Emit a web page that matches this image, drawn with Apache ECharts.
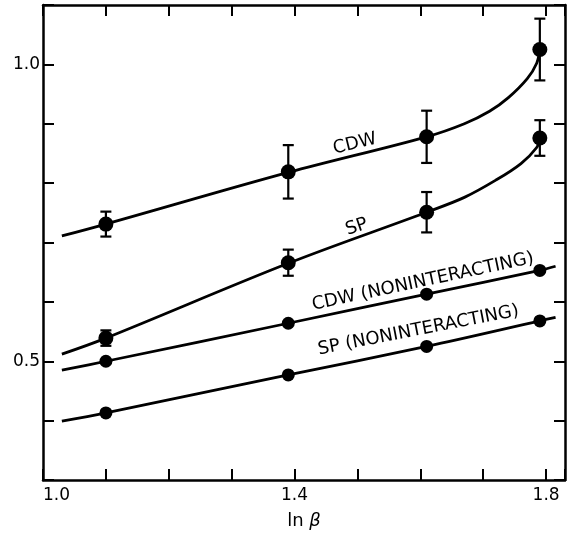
<!DOCTYPE html>
<html>
<head>
<meta charset="utf-8">
<script src="https://cdn.jsdelivr.net/npm/echarts@6/dist/echarts.min.js"></script>
<style>
  html, body { margin: 0; padding: 0; background: #fff; }
  #chart { width: 570px; height: 536px; }
</style>
</head>
<body>
<div id="chart"></div>
<script>
// ln(beta) values of the four measured lattices
const lnBeta = [1.10, 1.39, 1.61, 1.79];

// measured points with their error half-widths
const cdwValues = [0.731, 0.819, 0.878, 1.025];
const cdwErrors = [0.021, 0.045, 0.044, 0.052];
const spValues = [0.539, 0.666, 0.751, 0.876];
const spErrors = [0.013, 0.022, 0.034, 0.030];
const cdwNonValues = [0.500, 0.564, 0.613, 0.653];
const spNonValues = [0.413, 0.477, 0.525, 0.568];

// fitted guide curves, [ln beta, value]
const cdwCurve = [[1.03, 0.711], [1.10, 0.731], [1.39, 0.818], [1.61, 0.878], [1.67, 0.900],
  [1.71, 0.921], [1.74, 0.944], [1.77, 0.976], [1.785, 1.002], [1.79, 1.025]];
const spCurve = [[1.03, 0.512], [1.10, 0.539], [1.39, 0.665], [1.61, 0.751], [1.67, 0.776],
  [1.72, 0.805], [1.76, 0.833], [1.785, 0.860], [1.79, 0.876]];
const cdwNonCurve = [[1.03, 0.485], [1.10, 0.500], [1.39, 0.564], [1.61, 0.613], [1.79, 0.653], [1.815, 0.660]];
const spNonCurve = [[1.03, 0.399], [1.10, 0.413], [1.39, 0.477], [1.61, 0.525], [1.79, 0.568], [1.815, 0.574]];

// curve captions: text, [ln beta, value], rotation in degrees
const captions = [
  ['CDW', [1.496, 0.866], 14],
  ['SP', [1.499, 0.726], 19],
  ['CDW (NONINTERACTING)', [1.604, 0.634], 12],
  ['SP (NONINTERACTING)', [1.597, 0.552], 11]
];

// tick labels that are printed
const xTickLabels = ['1.0', '1.4', '1.8'];
const yTickLabels = ['0.5', '1.0'];

const chart = echarts.init(document.getElementById('chart'), null, { renderer: 'canvas' });
const INK = '#000';
const FONT = 'DejaVu Sans';

function pick(labels) {
  return function (v) {
    const s = v.toFixed(1);
    return labels.indexOf(s) >= 0 && Math.abs(v - parseFloat(s)) < 1e-6 ? s : '';
  };
}

const axisCommon = {
  type: 'value',
  axisLine: { show: true, onZero: false, lineStyle: { color: INK, width: 2.5 } },
  axisTick: { show: true, inside: true, length: 11, lineStyle: { color: INK, width: 2 } },
  splitLine: { show: false }
};

function pairs(xs, ys) { return xs.map((x, i) => [x, ys[i]]); }
function bars(xs, ys, es) { return xs.map((x, i) => [x, ys[i], ys[i] - es[i], ys[i] + es[i]]); }

function curve(data) {
  return {
    type: 'line', data: data, smooth: 0.35, showSymbol: false, silent: true,
    lineStyle: { color: INK, width: 2.8, opacity: 1 }, z: 2
  };
}
function dots(data, size) {
  return { type: 'scatter', data: data, symbolSize: size, itemStyle: { color: INK, opacity: 1 }, z: 4 };
}
function errorBars(data) {
  return {
    type: 'custom', data: data, z: 3,
    renderItem: function (params, api) {
      const x = api.value(0);
      const top = api.coord([x, api.value(3)]);
      const bot = api.coord([x, api.value(2)]);
      const w = 5.5;
      const st = { stroke: INK, lineWidth: 2.2 };
      return {
        type: 'group',
        children: [
          { type: 'line', shape: { x1: top[0], y1: top[1], x2: bot[0], y2: bot[1] }, style: st },
          { type: 'line', shape: { x1: top[0] - w, y1: top[1], x2: top[0] + w, y2: top[1] }, style: st },
          { type: 'line', shape: { x1: bot[0] - w, y1: bot[1], x2: bot[0] + w, y2: bot[1] }, style: st }
        ]
      };
    }
  };
}

const captionSeries = captions.map(c => ({
  type: 'scatter', symbolSize: 0, silent: true, z: 5,
  itemStyle: { opacity: 1 },
  data: [{ value: c[1] }],
  label: {
    show: true, position: 'inside', formatter: c[0], rotate: c[2], opacity: 1,
    color: INK, fontFamily: FONT, fontSize: 18
  }
}));

chart.setOption({
  animation: false,
  backgroundColor: '#fff',
  grid: { left: 43, right: 5, top: 5, bottom: 56, containLabel: false },
  xAxis: [
    Object.assign({}, axisCommon, {
      min: 1.0, max: 1.83, interval: 0.1, position: 'bottom',
      axisLabel: {
        formatter: pick(xTickLabels), color: INK, fontFamily: FONT, fontSize: 17, margin: 7,
        alignMinLabel: 'left'
      },
      name: '{a|ln }{b|β}', nameLocation: 'middle', nameGap: 32,
      nameTextStyle: {
        rich: {
          a: { color: INK, fontFamily: FONT, fontSize: 18 },
          b: { color: INK, fontFamily: FONT, fontSize: 18, fontStyle: 'italic' }
        }
      }
    }),
    Object.assign({}, axisCommon, {
      min: 1.0, max: 1.83, interval: 0.1, position: 'top', axisLabel: { show: false }
    })
  ],
  yAxis: [
    Object.assign({}, axisCommon, {
      min: 0.3, max: 1.1, interval: 0.1, position: 'left',
      axisLabel: { formatter: pick(yTickLabels), color: INK, fontFamily: FONT, fontSize: 17, margin: 3 }
    }),
    Object.assign({}, axisCommon, {
      min: 0.3, max: 1.1, interval: 0.1, position: 'right', axisLabel: { show: false }
    })
  ],
  series: [
    curve(cdwCurve),
    curve(spCurve),
    curve(cdwNonCurve),
    curve(spNonCurve),
    errorBars(bars(lnBeta, cdwValues, cdwErrors)),
    errorBars(bars(lnBeta, spValues, spErrors)),
    dots(pairs(lnBeta, cdwValues), 15),
    dots(pairs(lnBeta, spValues), 15),
    dots(pairs(lnBeta, cdwNonValues), 13),
    dots(pairs(lnBeta, spNonValues), 13)
  ].concat(captionSeries)
});
</script>
</body>
</html>
